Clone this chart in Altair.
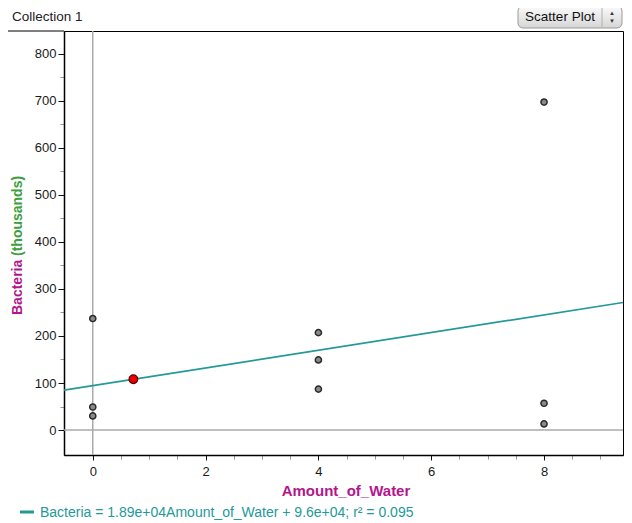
import altair as alt
import pandas as pd

# ---- data ----
water = [0, 0, 0, 0.72, 4, 4, 4, 8, 8, 8]
bacteria = [237, 49, 30, 108, 207, 149, 87, 697, 57, 13]
selected = [False, False, False, True, False, False, False, False, False, False]

x_ticks = [i * 0.5 for i in range(0, 19)]
y_ticks = list(range(0, 801, 50))
x_domain = [-0.51, 9.40]
y_domain = [-53, 848]

equation = "Bacteria = 1.89e+04Amount_of_Water + 9.6e+04; r\u00b2 = 0.095"
collection_name = "Collection 1"
plot_kind = "Scatter Plot"

FONT = "Liberation Sans"
MAGENTA = "#b3168c"
GREEN = "#3c9e3c"
TEAL = "#23999a"

df = pd.DataFrame({"water": water, "bacteria": bacteria, "selected": selected})
one = pd.DataFrame({"k": [0]})

W, H = 559, 424

xscale = alt.Scale(domain=x_domain, nice=False, zero=False)
yscale = alt.Scale(domain=y_domain, nice=False, zero=False)

xaxis = alt.Axis(
    values=x_ticks, title=None, grid=False,
    labelExpr="datum.value % 2 === 0 ? format(datum.value, 'd') : ''",
    labelOverlap=False, labelFont=FONT, labelFontSize=13, labelColor="#1a1a1a",
    labelPadding=5,
    tickColor={"condition": {"test": "datum.value % 2 === 0", "value": "#111"}, "value": "#999"},
    tickSize={"condition": {"test": "datum.value % 2 === 0", "value": 5}, "value": 4},
    domainColor="#000", domainWidth=1.5,
)
yaxis = alt.Axis(
    values=y_ticks, title=None, grid=False,
    labelExpr="datum.value % 100 === 0 ? format(datum.value, 'd') : ''",
    labelOverlap=False, labelFont=FONT, labelFontSize=13, labelColor="#1a1a1a",
    labelPadding=2,
    tickColor={"condition": {"test": "datum.value % 100 === 0", "value": "#111"}, "value": "#999"},
    tickSize={"condition": {"test": "datum.value % 100 === 0", "value": 6}, "value": 4},
    domainColor="#000", domainWidth=1.5,
)

base = alt.Chart(df)

zero_v = alt.Chart(one).mark_rule(color="#aaaaaa", strokeWidth=1.5).encode(
    x=alt.X("z:Q", scale=xscale, axis=xaxis)
).transform_calculate(z="0")
zero_h = alt.Chart(one).mark_rule(color="#aaaaaa", strokeWidth=1.5).encode(
    y=alt.Y("z:Q", scale=yscale, axis=yaxis)
).transform_calculate(z="0")

reg = base.transform_regression("water", "bacteria", extent=x_domain).mark_line(
    color=TEAL, strokeWidth=1.7
).encode(
    x=alt.X("water:Q", scale=xscale, axis=xaxis),
    y=alt.Y("bacteria:Q", scale=yscale, axis=yaxis),
)

pts = base.transform_filter("!datum.selected").mark_point(
    shape="circle", filled=True, fill="#8a8a8a", stroke="#2a2a2a", strokeWidth=1.5,
    size=38, opacity=1
).encode(
    x=alt.X("water:Q", scale=xscale, axis=xaxis),
    y=alt.Y("bacteria:Q", scale=yscale, axis=yaxis),
)

sel = base.transform_filter("datum.selected").mark_point(
    shape="circle", filled=True, fill="#ee0000", stroke="#550000", strokeWidth=1.2,
    size=75, opacity=1
).encode(
    x=alt.X("water:Q", scale=xscale, axis=xaxis),
    y=alt.Y("bacteria:Q", scale=yscale, axis=yaxis),
)

def label(text, x, y, color, size, weight="normal", angle=0, align="left", baseline="middle"):
    return alt.Chart(one).mark_text(
        text=text, font=FONT, fontSize=size, fontWeight=weight, color=color,
        angle=angle, align=align, baseline=baseline
    ).encode(x=alt.value(x), y=alt.value(y))

ytitle1 = label("Bacteria", -46, 284, MAGENTA, 14, "bold", angle=270)
ytitle2 = label("(thousands)", -46, 225, GREEN, 14, "bold", angle=270)
xtitle = label("Amount_of_Water", 282, 460, MAGENTA, 15, "bold", align="center")
eq_text = label(equation, -24, 482, TEAL, 14)
eq_dash = alt.Chart(one).mark_rule(color=TEAL, strokeWidth=3).encode(
    x=alt.value(-44), x2=alt.value(-30), y=alt.value(481)
)
coll = label(collection_name, -52, -14, "#222", 13.5)
top_ext = alt.Chart(one).mark_rule(color="#000", strokeWidth=1).encode(
    x=alt.value(-56), x2=alt.value(0), y=alt.value(0)
)

btn = alt.Chart(one).mark_rect(
    cornerRadius=5, stroke="#9a9a9a", strokeWidth=1,
    fill=alt.Gradient(gradient="linear", x1=0, y1=0, x2=0, y2=1,
                      stops=[alt.GradientStop(color="#fbfbfb", offset=0),
                             alt.GradientStop(color="#d6d6d6", offset=1)])
).encode(x=alt.value(454), x2=alt.value(558), y=alt.value(-25), y2=alt.value(-3))
btn_div = alt.Chart(one).mark_rule(color="#b0b0b0", strokeWidth=1).encode(
    x=alt.value(538), y=alt.value(-24), y2=alt.value(-4)
)
btn_text = label(plot_kind, 496, -14, "#111", 13.5, align="center")
btn_up = label("\u25b2", 548, -18, "#333", 6, align="center")
btn_dn = label("\u25bc", 548, -10, "#333", 6, align="center")

chart = alt.layer(
    zero_v, zero_h, reg, pts, sel,
    ytitle1, ytitle2, xtitle, eq_dash, eq_text, coll, top_ext,
    btn, btn_div, btn_text, btn_up, btn_dn,
).properties(
    width=W, height=H, autosize="none",
    padding={"left": 56, "top": 23, "right": 1, "bottom": 66},
    background="white",
).configure_view(stroke="#000", strokeWidth=1)

chart.save("out.html", embed_options={"renderer": "svg", "actions": False})
